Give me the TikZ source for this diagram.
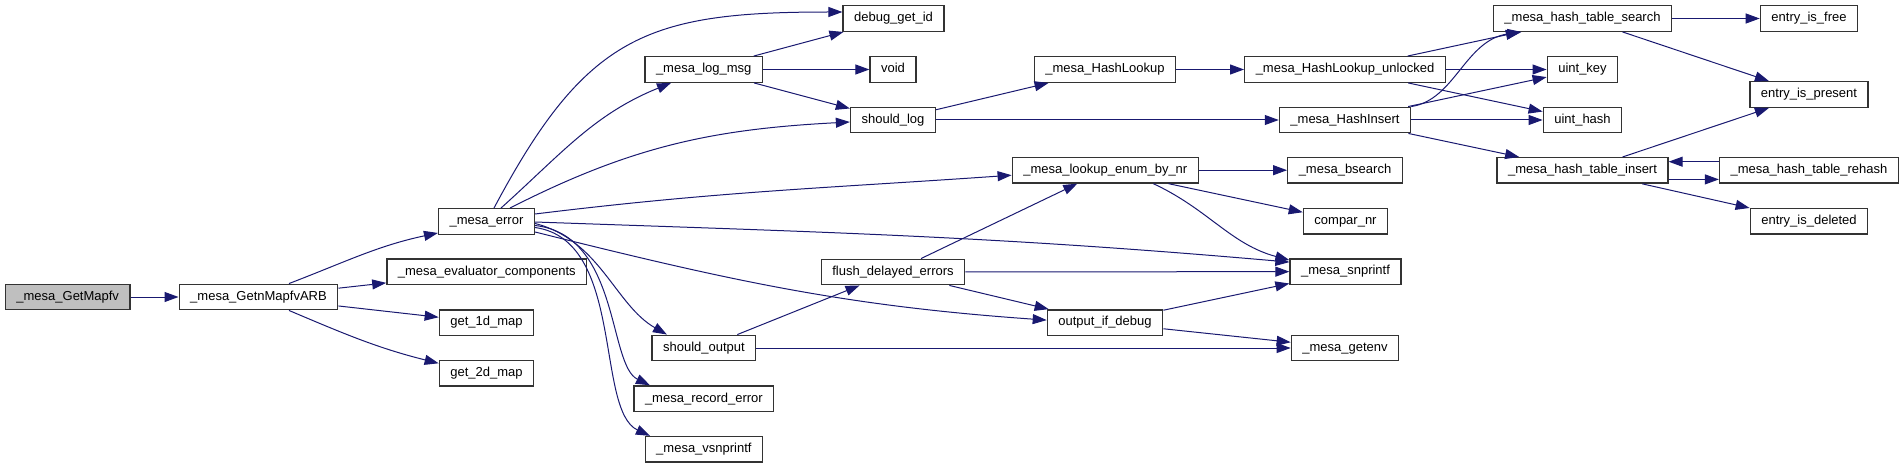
\documentclass[tikz,border=0pt]{standalone}
\usepackage{fontspec}
\setmainfont{Liberation Sans}
\usetikzlibrary{arrows.meta}
\definecolor{edgeblue}{HTML}{191970}

\begin{document}
\begin{tikzpicture}[x=1pt, y=1pt,
    fn/.style={draw=black!80, line width=1.4pt, fill=white, minimum height=25.5pt,
               inner xsep=11pt, inner ysep=0pt, font=\fontsize{13}{15}\selectfont,
               execute at begin node={\vphantom{Ap}}},
    call/.style={draw=edgeblue, line width=1pt, -{Triangle[length=14pt,width=10pt]}}]
  \useasboundingbox (0,0) rectangle (1904,-468);

  % functions, one column per call depth
  \node[fn, fill=black!25] (getmapfv) at (67.7,-297) {\_mesa\_GetMapfv};
  \node[fn] (getnmapfv) at (258.5,-297) {\_mesa\_GetnMapfvARB};
  \node[fn] (error) at (486.5,-221.5) {\_mesa\_error};
  \node[fn] (evalcomp) at (486.8,-271.8) {\_mesa\_evaluator\_components};
  \node[fn] (get1d) at (486.5,-322.6) {get\_1d\_map};
  \node[fn] (get2d) at (486.5,-373.3) {get\_2d\_map};
  \node[fn] (logmsg) at (703.7,-69.5) {\_mesa\_log\_msg};
  \node[fn] (shouldoutput) at (703.9,-348) {should\_output};
  \node[fn] (recorderror) at (703.9,-398.7) {\_mesa\_record\_error};
  \node[fn] (vsnprintf) at (703.9,-449.3) {\_mesa\_vsnprintf};
  \node[fn] (debuggetid) at (893.5,-18.5) {debug\_get\_id};
  \node[fn] (voidfn) at (893,-69.5) {void};
  \node[fn] (shouldlog) at (893,-120) {should\_log};
  \node[fn] (flush) at (893,-272) {flush\_delayed\_errors};
  \node[fn] (hashlookup) at (1105,-69.5) {\_mesa\_HashLookup};
  \node[fn] (lookupenum) at (1105.3,-170.2) {\_mesa\_lookup\_enum\_by\_nr};
  \node[fn] (outputdebug) at (1105,-322.6) {output\_if\_debug};
  \node[fn] (hashunlocked) at (1345,-69.5) {\_mesa\_HashLookup\_unlocked};
  \node[fn] (hashinsert) at (1345,-120) {\_mesa\_HashInsert};
  \node[fn] (bsearch) at (1345,-170.2) {\_mesa\_bsearch};
  \node[fn] (comparnr) at (1345.5,-221.3) {compar\_nr};
  \node[fn] (snprintf) at (1345.5,-271.6) {\_mesa\_snprintf};
  \node[fn] (getenv) at (1345,-348) {\_mesa\_getenv};
  \node[fn] (tablesearch) at (1582.5,-18.5) {\_mesa\_hash\_table\_search};
  \node[fn] (uintkey) at (1582.5,-69.5) {uint\_key};
  \node[fn] (uinthash) at (1582.5,-120) {uint\_hash};
  \node[fn] (tableinsert) at (1582.5,-170.4) {\_mesa\_hash\_table\_insert};
  \node[fn] (entryfree) at (1809,-18.5) {entry\_is\_free};
  \node[fn] (entrypresent) at (1809,-94.5) {entry\_is\_present};
  \node[fn] (rehash) at (1809,-170.4) {\_mesa\_hash\_table\_rehash};
  \node[fn] (entrydeleted) at (1809,-221.3) {entry\_is\_deleted};

  % calls
  \draw[call] (getmapfv) -- (getnmapfv);
  \draw[call] ([xshift=30.5pt]getnmapfv.north) to[out=21,in=192] ([yshift=2pt]error.south west);
  \draw[call] (getnmapfv) -- (evalcomp);
  \draw[call] (getnmapfv) -- (get1d);
  \draw[call] ([xshift=30.5pt]getnmapfv.south) to[out=-23,in=166] ([yshift=10pt]get2d.west);

  \draw[call] ([xshift=7.5pt]error.north) to[out=62,in=180,looseness=1.25] ([yshift=6.5pt]debuggetid.west);
  \draw[call] ([xshift=14.5pt]error.north) to[out=42,in=202] ([xshift=-32.7pt]logmsg.south);
  \draw[call] ([xshift=23.5pt]error.north) to[out=27,in=183] ([yshift=-2pt]shouldlog.west);
  \draw[call] ([yshift=7.5pt]error.east) to[out=7,in=184] ([yshift=-5pt]lookupenum.west);
  \draw[call] ([yshift=-0.5pt]error.east) to[out=-2,in=175] ([yshift=9.5pt]snprintf.west);
  \draw[call] ([yshift=-10.5pt]error.east) to[out=-14,in=176] ([yshift=2.5pt]outputdebug.west);
  \draw[call] ([yshift=-2pt]error.east) .. controls (600,-240) and (615,-305) .. ([xshift=-37pt]shouldoutput.north);
  \draw[call] ([yshift=-4pt]error.east) .. controls (620,-235) and (608,-365) .. ([xshift=-54pt]recorderror.north);
  \draw[call] ([yshift=-6pt]error.east) .. controls (625,-240) and (595,-410) .. ([xshift=-54pt]vsnprintf.north);

  \draw[call] (logmsg) -- (debuggetid);
  \draw[call] (logmsg) -- (voidfn);
  \draw[call] (logmsg) -- (shouldlog);
  \draw[call] (shouldlog) -- (hashlookup);
  \draw[call] (shouldlog) -- (hashinsert);
  \draw[call] (hashlookup) -- (hashunlocked);
  \draw[call] (hashunlocked) -- (tablesearch);
  \draw[call] (hashunlocked) -- (uintkey);
  \draw[call] (hashunlocked) -- (uinthash);
  \draw[call] (hashinsert.north east) .. controls (1455,-100) and (1465,-40) .. ([xshift=-61pt]tablesearch.south);
  \draw[call] (hashinsert) -- (uintkey);
  \draw[call] (hashinsert) -- (uinthash);
  \draw[call] (hashinsert) -- (tableinsert);
  \draw[call] (tablesearch) -- (entryfree);
  \draw[call] (tablesearch) -- (entrypresent);
  \draw[call] (tableinsert) -- (entrypresent);
  \draw[call] ([yshift=-9pt]tableinsert.east) -- ([yshift=-9pt]rehash.west);
  \draw[call] ([yshift=8.7pt]rehash.west) -- ([yshift=8.7pt]tableinsert.east);
  \draw[call] (tableinsert) -- (entrydeleted);

  \draw[call] (lookupenum) -- (bsearch);
  \draw[call] (lookupenum) -- (comparnr);
  \draw[call] ([xshift=48pt]lookupenum.south) to[out=-25,in=165] ([yshift=11.5pt]snprintf.west);
  \draw[call] (flush) -- (lookupenum);
  \draw[call] (flush) -- (snprintf);
  \draw[call] (flush) -- (outputdebug);
  \draw[call] (shouldoutput) -- (flush);
  \draw[call] (shouldoutput) -- (getenv);
  \draw[call] (outputdebug) -- (snprintf);
  \draw[call] (outputdebug) -- (getenv);
\end{tikzpicture}
\end{document}
